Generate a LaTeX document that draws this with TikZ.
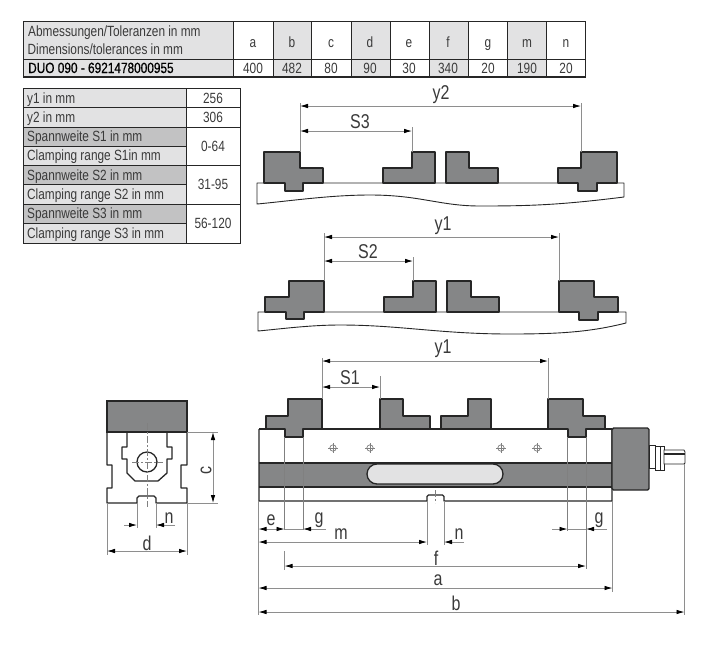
\documentclass[tikz,border=0pt]{standalone}
\usepackage{fontspec}
\setmainfont[FakeStretch=0.8]{Liberation Sans}
\newfontfamily\boldcond[FakeStretch=0.8,FakeBold=0.5]{Liberation Sans}
\usetikzlibrary{arrows.meta}
\definecolor{ink}{HTML}{262626}
\definecolor{steel}{HTML}{858687}
\definecolor{lightcell}{HTML}{E2E2E3}
\definecolor{darkcell}{HTML}{C2C2C3}
\definecolor{dimgray}{HTML}{8E8E8E}
\definecolor{txt}{HTML}{3A3A3A}
\tikzset{
 cell/.style={draw=ink,line width=1pt},
 tabtxt/.style={text=txt,font=\fontsize{14.8}{15}\selectfont,inner sep=0pt,text height=10pt,text depth=0pt},
 lab/.style={text=txt,font=\fontsize{20}{20}\selectfont,inner sep=0pt},
 jaw/.style={draw=ink,line width=1.3pt,fill=steel,line join=round},
 outline/.style={draw=ink,line width=1.3pt,line join=round},
 ext/.style={draw=dimgray,line width=0.8pt},
 extdark/.style={draw=gray,line width=0.8pt},
 dimn/.style={draw=dimgray,line width=0.8pt,{Latex[length=8pt,width=4.5pt,color=black]}-{Latex[length=8pt,width=4.5pt,color=black]}},
 dimr/.style={draw=dimgray,line width=0.8pt,-{Latex[length=8pt,width=4.5pt,color=black]}},
 center/.style={draw=gray,line width=0.6pt,dash pattern=on 7pt off 2pt on 2pt off 2pt},
 hole/.style={draw=gray,line width=0.7pt},
}
\newcommand{\markhole}[2]{\draw[hole] (#1,#2) circle (3.2);\draw[hole] (#1-5,#2)--(#1+5,#2) (#1,#2-5)--(#1,#2+5);}
\begin{document}
\begin{tikzpicture}[x=1pt,y=-1pt]
\useasboundingbox (0,0) rectangle (725,649);
% top table
\fill[lightcell] (23,21) rectangle (233,77);
\foreach \a/\b in {273/311,351/390,429/468,507/546}{\fill[lightcell] (\a,21) rectangle (\b,77);}
\draw[cell] (23,21) rectangle (585,77);
\draw[cell] (23,59)--(585,59);
\draw[line width=1.4pt,ink] (23,77)--(585,77);
\foreach \x in {233,273,311,351,390,429,468,507,546}{\draw[cell] (\x,21)--(\x,77);}
\node[tabtxt,anchor=west] (h1) at (28,31) {Abmessungen/Toleranzen in mm};
\node[tabtxt,anchor=west] (h2) at (27.5,49.5) {Dimensions/tolerances in mm};
\node[tabtxt,anchor=west,text=black] (h3) at (28,68) {\boldcond DUO 090 - 6921478000955};
\foreach \n/\x/\l/\v in {a/253/a/400,b/292/b/482,c/331/c/80,d/370/d/90,e/409/e/30,f/448/f/340,g/488/g/20,m/527/m/190,o/566/n/20}{
 \node[tabtxt] (t\n) at (\x,42) {\l};
 \node[tabtxt] (v\n) at (\x,68) {\v};
}
% second table
\fill[lightcell] (23,88) rectangle (186,243);
\foreach \a/\b in {127/146,165/184,204/223}{\fill[darkcell] (23,\a) rectangle (186,\b);}
\draw[cell] (23,88) rectangle (240,243);
\draw[cell] (186,88)--(186,243);
\foreach \y in {107,127,165,204}{\draw[cell] (23,\y)--(240,\y);}
\foreach \y in {146,184,223}{\draw[cell] (23,\y)--(186,\y);}
\foreach \n/\y/\t in {r1/98/y1 in mm,r2/117/y2 in mm,r3/136.5/Spannweite S1 in mm,r4/155.5/Clamping range S1in mm,r5/175/Spannweite S2 in mm,r6/194/Clamping range S2 in mm,r7/213.5/Spannweite S3 in mm,r8/233/Clamping range S3 in mm}{
 \node[tabtxt,anchor=west] (\n) at (27,\y) {\t};
}
\foreach \n/\y/\t in {s1/98/256,s2/117/306,s3/146/0-64,s4/184.5/31-95,s5/223.5/56-120}{
 \node[tabtxt] (\n) at (213,\y) {\t};
}
% view 1
\draw[outline,line width=0.9pt,fill=white] (257,183)--(624,183)--(624,197) .. controls (560,205) and (530,206) .. (480,206) .. controls (440,206) and (420,195) .. (370,195) .. controls (330,195) and (290,201) .. (257,204)--cycle;
\draw[jaw] (264,183)--(264,152)--(300,152)--(300,168)--(323,168)--(323,183)--(303,183)--(303,191)--(285,191)--(285,183)--cycle;
\draw[jaw] (383,183)--(383,168)--(412,168)--(412,152)--(435,152)--(435,183)--cycle;
\draw[jaw] (446,183)--(446,152)--(469,152)--(469,168)--(498,168)--(498,183)--cycle;
\draw[jaw] (558,183)--(558,168)--(581,168)--(581,152)--(617,152)--(617,183)--(597,183)--(597,191)--(578,191)--(578,183)--cycle;
\draw[ext] (300,152)--(300,103) (581,152)--(581,103) (412,152)--(412,127);
\draw[dimn] (300,106)--(581,106);
\draw[dimn] (300,131)--(412,131);
\node[lab] (ly2) at (441,95) {y2};
\node[lab] (ls3) at (360,122) {S3};
% view 2
\draw[outline,line width=0.9pt,fill=white] (258,312)--(626,312)--(626,323) .. controls (590,332) and (560,334) .. (510,334) .. controls (440,334) and (400,325) .. (340,325) .. controls (310,325) and (280,329) .. (258,331)--cycle;
\draw[jaw] (265,312)--(265,297)--(289,297)--(289,281)--(324,281)--(324,312)--(304,312)--(304,319)--(286,319)--(286,312)--cycle;
\draw[jaw] (384,312)--(384,297)--(413,297)--(413,281)--(436,281)--(436,312)--cycle;
\draw[jaw] (447,312)--(447,281)--(471,281)--(471,297)--(499,297)--(499,312)--cycle;
\draw[jaw] (559,312)--(559,281)--(594,281)--(594,297)--(618,297)--(618,312)--(598,312)--(598,320)--(579,320)--(579,312)--cycle;
\draw[ext] (324,281)--(324,233) (559,281)--(559,233) (413,281)--(413,257);
\draw[dimn] (324,237)--(559,237);
\draw[dimn] (324,261)--(413,261);
\node[lab] (ly1) at (443,226) {y1};
\node[lab] (ls2) at (368,252) {S2};
% view 3 body
\fill[white] (259,429) rectangle (612,501);
\fill[steel] (259,463) rectangle (612,487);
\draw[outline,fill=lightcell] (377,464) arc[start angle=270,end angle=90,radius=10] -- (493,484) arc[start angle=90,end angle=-90,radius=10] -- cycle;
\draw[outline] (259,429)--(612,429);
\draw[outline] (259,463)--(612,463) (259,487)--(612,487);
\draw[outline] (259,429)--(259,501)--(427,501)--(427,496.5)--(428.5,495)--(442.5,495)--(444,496.5)--(444,501)--(612,501)--(612,429);
\draw[jaw] (266,429)--(266,416)--(288,416)--(288,399)--(322,399)--(322,429)--(303,429)--(303,437)--(285,437)--(285,429)--cycle;
\draw[jaw] (380,429)--(380,399)--(403,399)--(403,416)--(430,416)--(430,429)--cycle;
\draw[jaw] (441,429)--(441,416)--(468,416)--(468,399)--(491,399)--(491,429)--cycle;
\draw[jaw] (548,429)--(548,399)--(583,399)--(583,416)--(605,416)--(605,429)--(586,429)--(586,437)--(568,437)--(568,429)--cycle;
\draw[fill=steel,draw=ink,line width=1.4pt,rounded corners=1.5pt] (612,428) rectangle (649,490);
\draw[draw=ink,line width=0.7pt,fill=white] (649,445) rectangle (655,468);
\draw[draw=ink,line width=0.7pt,fill=white] (655,446) rectangle (664,470);
\draw[draw=ink,line width=1pt] (660,446)--(660,470);
\draw[draw=ink,line width=0.8pt,fill=white] (664,450)--(684,450)--(685,452)--(685,463)--(684,464)--(664,464)--cycle;
\draw[ink,line width=1.2pt] (664,454)--(685,454);
\markhole{333}{448}\markhole{370}{448}\markhole{501}{448}\markhole{537}{448}
\draw[center] (435,490)--(435,503);
% extension lines view 3
\draw[ext] (322,399)--(322,358) (548,399)--(548,358) (380,399)--(380,376);
\draw[extdark] (284.5,437)--(284.5,530) (303,437)--(303,530) (567.5,437)--(567.5,531) (586,437)--(586,569);
\draw[ext] (258.5,501)--(258.5,615) (427,501)--(427,545) (444,501)--(444,545) (612.5,501)--(612.5,592) (684.5,464)--(684.5,615) (284.5,551)--(284.5,570);
\draw[dimn] (322,361)--(548,361);
\draw[dimn] (322,387)--(380,387);
\node[lab] (ly1b) at (443,349) {y1};
\node[lab] (ls1) at (350,378) {S1};
\draw[dimn] (258.5,529)--(284.5,529);
\draw[dimr] (326,529)--(303,529);
\draw[ext] (284.5,529)--(303,529);
\draw[dimr] (552,529)--(567.5,529);
\draw[ext] (567.5,529)--(586,529);
\draw[dimr] (607,529)--(586,529);
\draw[dimn] (258.5,542)--(427,542);
\draw[dimr] (464,542)--(444,542);
\draw[dimn] (284.5,566)--(586,566);
\draw[dimn] (258.5,588)--(612.5,588);
\draw[dimn] (258.5,612)--(684.5,612);
\node[lab] (le) at (271,520) {e};
\node[lab] (lg1) at (319,520) {g};
\node[lab] (lg2) at (599,520) {g};
\node[lab] (lm) at (341,534) {m};
\node[lab] (ln1) at (459,534) {n};
\node[lab] (lf) at (436,558) {f};
\node[lab] (la) at (438,580) {a};
\node[lab] (lb) at (456,603) {b};
% end view
\fill[white] (107,432) rectangle (187,503);
\draw[outline] (107,432)--(107,465)--(112,465)--(112,488)--(107,488)--(107,503)--(137,503)--(137,498)--(139,496)--(154,496)--(156,498)--(156,503)--(187,503)--(187,488)--(181,488)--(181,465)--(187,465)--(187,432);
\draw[jaw,line join=miter] (107,401) rectangle (187,432);
\draw[outline] (127,432)--(127,447)--(122,447)--(122,459)--(127,459)--(127,473)--(135,481)--(158,481)--(167,473)--(167,459)--(172,459)--(172,447)--(167,447)--(167,432);
\draw[ink,line width=1.3pt] (147,462) circle (10);
\draw[center] (147,423)--(147,507);
\draw[center] (132,462)--(163,462);
\draw[ext] (187,432)--(218,432) (187,503)--(218,503);
\draw[ext] (107,503)--(107,555) (187,503)--(187,555) (137,503)--(137,528) (156,503)--(156,528);
\draw[dimn] (213,432)--(213,503);
\draw[dimr] (124,525)--(137,525);
\draw[dimr] (175,525)--(156,525);
\draw[dimn] (107,551)--(187,551);
\node[lab,rotate=90] (lc) at (206,470) {c};
\node[lab] (ln2) at (169,518) {n};
\node[lab] (ld) at (147,543) {d};
\end{tikzpicture}
\end{document}
